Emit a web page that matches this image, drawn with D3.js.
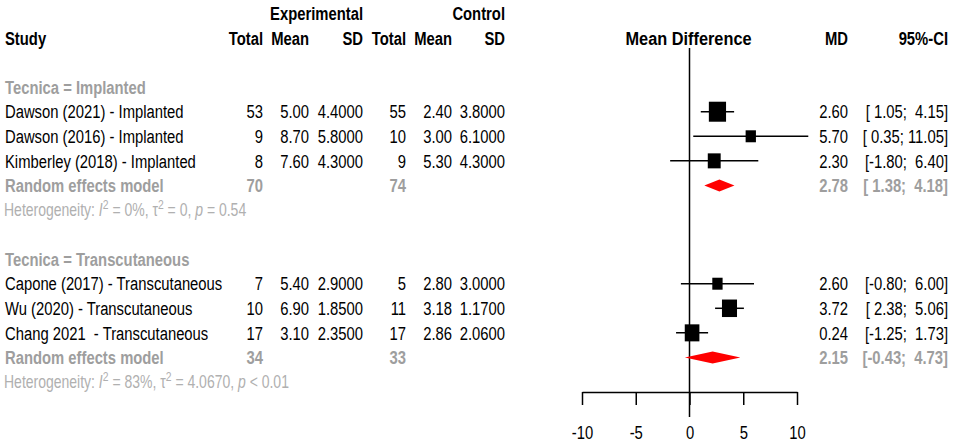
<!DOCTYPE html>
<html>
<head>
<meta charset="utf-8">
<script src="https://cdn.jsdelivr.net/npm/d3@7"></script>
<style>
  body { margin: 0; background: #fff; }
  text { font-family: "Liberation Sans", Arial, sans-serif; }
</style>
</head>
<body>
<div class="viz"></div>
<script>
const width = 957;
const height = 443;

// study level data
const studies = ["Dawson (2021) - Implanted", "Dawson (2016) - Implanted", "Kimberley (2018) - Implanted",
                 "Capone (2017) - Transcutaneous", "Wu (2020) - Transcutaneous", "Chang 2021  - Transcutaneous"];
const expTotal = [53, 9, 8, 7, 10, 17];
const expMean = [5.00, 8.70, 7.60, 5.40, 6.90, 3.10];
const expSD = [4.4, 5.8, 4.3, 2.9, 1.85, 2.35];
const ctlTotal = [55, 10, 9, 5, 11, 17];
const ctlMean = [2.40, 3.00, 5.30, 2.80, 3.18, 2.86];
const ctlSD = [3.8, 6.1, 4.3, 3.0, 1.17, 2.06];
const md = [2.60, 5.70, 2.30, 2.60, 3.72, 0.24];
const ciLow = [1.05, 0.35, -1.80, -0.80, 2.38, -1.25];
const ciHigh = [4.15, 11.05, 6.40, 6.00, 5.06, 1.73];
const weights = [26.5, 9.5, 14.9, 9.5, 20.3, 19.2]; // % (box area)

// subgroup data
const subgroups = ["Implanted", "Transcutaneous"];
const subStudies = [[0, 1, 2], [3, 4, 5]];
const subExpTotal = [70, 34];
const subCtlTotal = [74, 33];
const subMD = [2.78, 2.15];
const subLow = [1.38, -0.43];
const subHigh = [4.18, 4.73];
const hetI2 = ["0%", "83%"];
const hetTau2 = ["0", "4.0670"];
const hetP = ["= 0.54", "< 0.01"];

const xTicks = [-10, -5, 0, 5, 10];

const FS = 19;             // base font size
const SX = 0.78;           // horizontal squeeze of the text
const grey = "#9e9e9e";
const lightGrey = "#b0b0b0";

const svg = d3.select(".viz")
    .append("svg")
    .attr("width", width)
    .attr("height", height);

// row index -> y
const y = d3.scaleLinear().domain([0, 14]).range([38, 382]);
const x = d3.scaleLinear().domain([-10, 10]).range([582, 797]);
const box = d3.scaleSqrt().domain([0, d3.max(weights)]).range([0, 20]);

function addText(px, py, str, opt = {}) {
    return svg.append("text")
        .attr("transform", `translate(${px},${py}) scale(${opt.sx || SX},1)`)
        .attr("dy", "0.35em")
        .attr("text-anchor", opt.anchor || "start")
        .attr("xml:space", "preserve")
        .style("white-space", "pre")
        .style("font-size", (opt.size || FS) + "px")
        .style("font-weight", opt.bold ? "bold" : "normal")
        .style("fill", opt.fill || "#000")
        .text(str);
}

// plain hyphen instead of unicode minus
const f2 = v => d3.format(".2f")(v).replace("\u2212", "-");
const f4 = v => d3.format(".4f")(v).replace("\u2212", "-");
function ci(lo, hi) {
    const a = f2(lo), b = f2(hi);
    return "[" + (lo < 0 ? "" : " ") + a + "; " + (b.length < 5 ? " " : "") + b + "]";
}

// column positions (right edges)
const col = { study: 5, eT: 263, eM: 309, eS: 363, cT: 406, cM: 452, cS: 505, md: 848, ci: 948 };

// headers
addText(col.eS, y(-1), "Experimental", { anchor: "end", bold: true });
addText(col.cS, y(-1), "Control", { anchor: "end", bold: true });
addText(col.study, y(0), "Study", { bold: true });
[["eT", "Total"], ["eM", "Mean"], ["eS", "SD"], ["cT", "Total"], ["cM", "Mean"], ["cS", "SD"], ["md", "MD"], ["ci", "95%-CI"]]
    .forEach(([k, t]) => addText(col[k], y(0), t, { anchor: "end", bold: true }));
addText(x(0) - 1, y(0), "Mean Difference", { anchor: "middle", bold: true, sx: 0.86 });

// zero line
svg.append("line")
    .attr("x1", x(0)).attr("x2", x(0))
    .attr("y1", 48).attr("y2", 417)
    .style("stroke", "#000").style("stroke-width", 1.5);

subgroups.forEach((sg, g) => {
    const base = g === 0 ? 2 : 9;
    addText(col.study, y(base), "Tecnica = " + sg, { bold: true, fill: grey });

    subStudies[g].forEach((i, j) => {
        const ry = y(base + 1 + j);
        addText(col.study, ry, studies[i]);
        addText(col.eT, ry, expTotal[i], { anchor: "end" });
        addText(col.eM, ry, f2(expMean[i]), { anchor: "end" });
        addText(col.eS, ry, f4(expSD[i]), { anchor: "end" });
        addText(col.cT, ry, ctlTotal[i], { anchor: "end" });
        addText(col.cM, ry, f2(ctlMean[i]), { anchor: "end" });
        addText(col.cS, ry, f4(ctlSD[i]), { anchor: "end" });
        addText(col.md, ry, f2(md[i]), { anchor: "end" });
        addText(col.ci, ry, ci(ciLow[i], ciHigh[i]), { anchor: "end" });

        svg.append("line")
            .attr("x1", x(ciLow[i])).attr("x2", x(ciHigh[i]))
            .attr("y1", ry).attr("y2", ry)
            .style("stroke", "#000").style("stroke-width", 1.5);
        const h = box(weights[i]);
        const w = h * 0.86;
        svg.append("rect")
            .attr("x", x(md[i]) - w / 2).attr("y", ry - h / 2)
            .attr("width", w).attr("height", h)
            .style("fill", "#000");
    });

    // random effects row
    const ry = y(base + 4);
    addText(col.study, ry, "Random effects model", { bold: true, fill: grey });
    addText(col.eT, ry, subExpTotal[g], { anchor: "end", bold: true, fill: grey });
    addText(col.cT, ry, subCtlTotal[g], { anchor: "end", bold: true, fill: grey });
    addText(col.md, ry, f2(subMD[g]), { anchor: "end", bold: true, fill: grey });
    addText(col.ci, ry, ci(subLow[g], subHigh[g]), { anchor: "end", bold: true, fill: grey });
    svg.append("polygon")
        .attr("points", [[x(subLow[g]), ry], [x(subMD[g]), ry - 6], [x(subHigh[g]), ry], [x(subMD[g]), ry + 6]].join(" "))
        .style("fill", "#ff0000");

    // heterogeneity
    const ht = addText(col.study - 1, y(base + 5), "", { size: 17.5, sx: 0.8, fill: lightGrey });
    ht.append("tspan").text("Heterogeneity: ");
    ht.append("tspan").style("font-style", "italic").text("I");
    ht.append("tspan").attr("dy", -7).style("font-size", "13px").text("2");
    ht.append("tspan").attr("dy", 7).text(" = " + hetI2[g] + ", \u03c4");
    ht.append("tspan").attr("dy", -7).style("font-size", "13px").text("2");
    ht.append("tspan").attr("dy", 7).text(" = " + hetTau2[g] + ", ");
    ht.append("tspan").style("font-style", "italic").text("p");
    ht.append("tspan").text(" " + hetP[g]);
});

// x axis
const axis = svg.append("g")
    .attr("transform", "translate(0,392)")
    .call(d3.axisBottom(x).tickValues(xTicks).tickSize(13).tickSizeOuter(0).tickPadding(21).tickFormat(d => String(d)));
axis.selectAll("path, line").style("stroke", "#000").style("stroke-width", 1.5);
axis.selectAll("text")
    .attr("transform", `scale(${SX},1)`)
    .style("font-size", "19px")
    .style("fill", "#000")
    .style("font-family", "'Liberation Sans', Arial, sans-serif");
</script>
</body>
</html>
